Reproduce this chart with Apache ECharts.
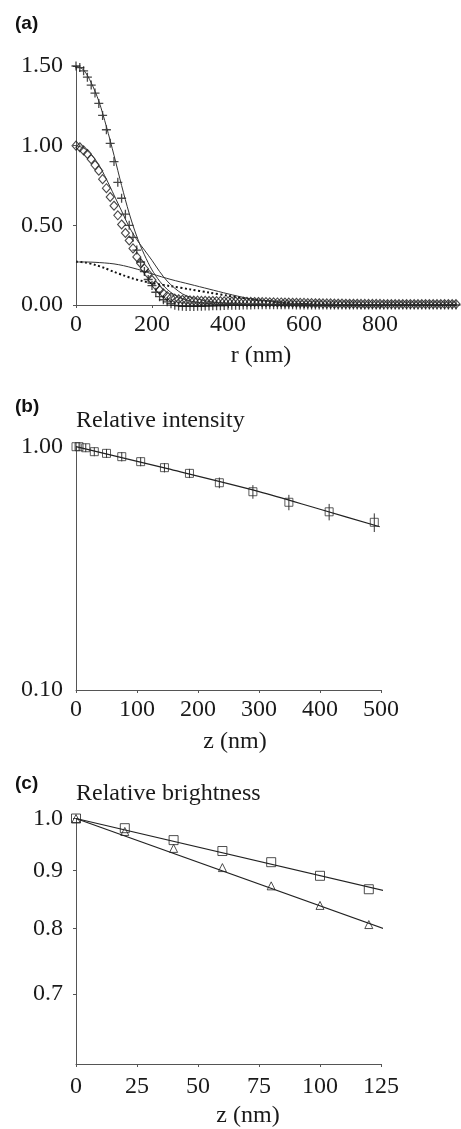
<!DOCTYPE html>
<html>
<head>
<meta charset="utf-8">
<script src="https://cdn.jsdelivr.net/npm/echarts@6/dist/echarts.min.js"></script>
<style>
html,body{margin:0;padding:0;background:#fff;}
#c{width:461px;height:1129px;}
</style>
</head>
<body>
<div id="c"></div>
<script>
// ---------- Panel (a) ----------
const rA = [0,10,20,30,40,50,60,70,80,90,100,110,120,130,140,150,160,170,180,190,200,210,220,230,240,250,
260,270,280,290,300,310,320,330,340,350,360,370,380,390,400,
410,420,430,440,450,460,470,480,490,500,510,520,530,540,550,560,570,580,590,600,
610,620,630,640,650,660,670,680,690,700,710,720,730,740,750,760,770,780,790,800,
810,820,830,840,850,860,870,880,890,900,910,920,930,940,950,960,970,980,990,1000];
const plusA = [1.50,1.49,1.47,1.43,1.38,1.33,1.265,1.19,1.10,1.015,0.90,0.77,0.67,0.57,0.50,0.425,0.345,0.27,0.21,0.16,0.122,0.08,0.052,0.033,0.02,0.008,
-0.002,-0.006,-0.008,-0.009,-0.009,-0.009,-0.008,-0.008,-0.007,-0.006,-0.005,-0.004,-0.004,-0.003,-0.002,
-0.002,-0.001,-0.001,0,0,0,0.001,0.001,0.001,0.001,
0.001,0.001,0.001,0.001,0.001,0.001,0.001,0,0,0,
0,0,0,0,0,0,0,0,0,0,
0,0,0,0,0,0,0,0,0,0,
0,0,0,0,0,0,0,0,0,0,
0,0,0,0,0,0,0,0,0,0];
const diamondA = [1.00,0.99,0.97,0.948,0.915,0.878,0.843,0.79,0.733,0.678,0.623,0.563,0.505,0.452,0.405,0.355,0.302,0.262,0.228,0.195,0.157,0.122,0.094,0.073,0.056,0.046,
0.04,0.036,0.033,0.031,0.029,
0.028,0.027,0.026,0.026,0.025,0.025,0.024,0.024,0.023,0.023,
0.022,0.022,0.021,0.021,0.02,0.02,0.019,0.019,0.018,0.018,
0.017,0.017,0.016,0.016,0.015,0.015,0.014,0.014,0.013,0.013,
0.012,0.012,0.011,0.011,0.01,0.01,0.01,0.009,0.009,0.009,
0.008,0.008,0.008,0.008,0.007,0.007,0.007,0.007,0.007,0.007,
0.006,0.006,0.006,0.006,0.006,0.006,0.006,0.006,0.006,0.006,
0.006,0.006,0.006,0.006,0.006,0.006,0.006,0.006,0.006,0.006];
const rFit = [0,20,40,60,80,100,120,140,160,180,200,220,240,260,280,300,350,400,450,500,600,800,1000];
const plusFit = [1.5,1.475,1.395,1.28,1.12,0.94,0.75,0.575,0.43,0.315,0.22,0.15,0.098,0.062,0.04,0.025,0.008,0.002,0.001,0,0,0,0];
const diamondFit = [1.0,0.985,0.945,0.88,0.79,0.69,0.59,0.49,0.41,0.345,0.28,0.21,0.15,0.105,0.07,0.05,0.022,0.01,0.004,0.001,0,0,0];
const rLow = [0,25,50,75,100,125,150,175,200,250,300,350,400,450,500,550,600,700,800,1000];
const lowSolid = [0.27,0.27,0.268,0.264,0.258,0.247,0.232,0.215,0.195,0.16,0.13,0.1,0.07,0.043,0.025,0.013,0.006,0.002,0,0];
const lowDotted = [0.272,0.266,0.252,0.232,0.208,0.186,0.166,0.15,0.137,0.118,0.098,0.078,0.058,0.04,0.025,0.013,0.006,0.002,0,0];

// ---------- Panel (b) ----------
const zB = [0,5,16,30,50,75,106,145,186,235,290,349,415,489];
const intensB = [1.0,1.0,0.99,0.954,0.939,0.910,0.868,0.820,0.777,0.711,0.653,0.591,0.540,0.489];
const errB = [0.04,0.04,0.04,0.04,0.04,0.04,0.037,0.036,0.034,0.036,0.042,0.043,0.042,0.043];
const zBFit = [0,150,300,400,498];
const intensBFit = [1.0,0.812,0.654,0.553,0.469];

// ---------- Panel (c) ----------
const zC = [0,20,40,60,80,100,120];
const brightSq = [1.0,0.9805,0.957,0.936,0.915,0.890,0.866];
const brightTri = [1.0,0.974,0.941,0.905,0.872,0.838,0.806];
const zCFit = [0,127.7];
const brightSqFit = [1.0,0.862];
const brightTriFit = [1.0,0.797];
const yTicksC = [0.7,0.8,0.9,1.0];

const zip = (a,b) => a.map((v,i)=>[v,b[i]]);
const SERIF = '"Liberation Serif", "Times New Roman", serif';
const TXT = '#1a1a1a';
const AX = '#555';
const FS = 24;

function xAx(grid, min, max, interval, extra) {
  return Object.assign({
    gridIndex: grid, type: 'value', min, max, interval,
    axisLine: {show: true, onZero: false, lineStyle: {color: AX, width: 1}},
    axisTick: {show: true, length: 3, lineStyle: {color: AX}},
    splitLine: {show: false},
    axisLabel: {fontFamily: SERIF, fontSize: FS, color: TXT, margin: 8}
  }, extra || {});
}

const plusPath = 'path://M5,0 L5,10 M0,5 L10,5';

const option = {
  animation: false,
  backgroundColor: '#fff',
  grid: [
    {left: 76, top: 66, width: 380, height: 239, outerBoundsMode: 'none'},
    {left: 76, top: 446.7, width: 305, height: 243.3, outerBoundsMode: 'none'},
    {left: 76, top: 818.5, width: 305, height: 245.5, outerBoundsMode: 'none'}
  ],
  xAxis: [
    xAx(0, 0, 1000, 200, {axisLabel: {fontFamily: SERIF, fontSize: FS, color: TXT, margin: 8, showMaxLabel: false}}),
    xAx(1, 0, 500, 100),
    xAx(2, 0, 125, 25, {axisLabel: {fontFamily: SERIF, fontSize: FS, color: TXT, margin: 11}})
  ],
  yAxis: [
    {
      gridIndex: 0, type: 'value', min: 0, max: 1.5, interval: 0.5,
      axisLine: {show: true, onZero: false, lineStyle: {color: AX}},
      axisTick: {show: true, length: 3, lineStyle: {color: AX}},
      splitLine: {show: false},
      axisLabel: {fontFamily: SERIF, fontSize: FS, color: TXT, margin: 13, formatter: v => v.toFixed(2)}
    },
    {
      gridIndex: 1, type: 'log', logBase: 10, min: 0.1, max: 1,
      axisLine: {show: true, onZero: false, lineStyle: {color: AX}},
      axisTick: {show: false},
      minorTick: {show: false},
      splitLine: {show: false},
      axisLabel: {fontFamily: SERIF, fontSize: FS, color: TXT, margin: 13, formatter: v => Number(v).toFixed(2)}
    },
    {
      gridIndex: 2, type: 'log', logBase: 10, min: 0.607, max: 1.0,
      axisLine: {show: true, onZero: false, lineStyle: {color: AX}},
      axisTick: {show: true, length: 3, lineStyle: {color: AX}, customValues: yTicksC},
      splitLine: {show: false},
      axisLabel: {fontFamily: SERIF, fontSize: FS, color: TXT, margin: 13, customValues: yTicksC, formatter: v => Number(v).toFixed(1)}
    }
  ],
  series: [
    // (a)
    {type: 'line', xAxisIndex: 0, yAxisIndex: 0, data: zip(rLow, lowDotted), showSymbol: false, smooth: 0.3,
      lineStyle: {color: '#111', width: 2, type: [2, 2.5]}},
    {type: 'line', xAxisIndex: 0, yAxisIndex: 0, data: zip(rLow, lowSolid), showSymbol: false, smooth: 0.3,
      lineStyle: {color: '#333', width: 1}},
    {type: 'line', xAxisIndex: 0, yAxisIndex: 0, data: zip(rFit, diamondFit), showSymbol: false, smooth: 0.3,
      lineStyle: {color: '#333', width: 1}},
    {type: 'line', xAxisIndex: 0, yAxisIndex: 0, data: zip(rFit, plusFit), showSymbol: false, smooth: 0.3,
      lineStyle: {color: '#333', width: 1}},
    {type: 'scatter', xAxisIndex: 0, yAxisIndex: 0, data: zip(rA, diamondA), clip: false,
      symbol: 'diamond', symbolSize: [8, 9],
      itemStyle: {color: 'rgba(0,0,0,0)', borderColor: '#1a1a1a', borderWidth: 1.1}},
    {type: 'scatter', xAxisIndex: 0, yAxisIndex: 0, data: zip(rA, plusA), clip: false,
      symbol: plusPath, symbolSize: 9,
      itemStyle: {color: 'rgba(0,0,0,0)', borderColor: '#1a1a1a', borderWidth: 1.3}},
    // (b)
    {type: 'line', xAxisIndex: 1, yAxisIndex: 1, data: zip(zBFit, intensBFit), showSymbol: false, smooth: 0.3,
      lineStyle: {color: '#222', width: 1.2}},
    {type: 'custom', xAxisIndex: 1, yAxisIndex: 1, clip: false,
      data: zB.map((z,i)=>[z, intensB[i]-errB[i], intensB[i]+errB[i]]),
      encode: {x: 0, y: [1, 2]},
      renderItem: function (params, api) {
        const p1 = api.coord([api.value(0), api.value(1)]);
        const p2 = api.coord([api.value(0), api.value(2)]);
        return {type: 'line', shape: {x1: p1[0], y1: p1[1], x2: p2[0], y2: p2[1]},
          style: {stroke: '#333', lineWidth: 1}};
      }},
    {type: 'scatter', xAxisIndex: 1, yAxisIndex: 1, data: zip(zB, intensB), clip: false,
      symbol: 'rect', symbolSize: 8,
      itemStyle: {color: 'rgba(0,0,0,0)', borderColor: '#333', borderWidth: 1}},
    // (c)
    {type: 'line', xAxisIndex: 2, yAxisIndex: 2, data: zip(zCFit, brightSqFit), showSymbol: false, clip: false,
      lineStyle: {color: '#222', width: 1.2}},
    {type: 'line', xAxisIndex: 2, yAxisIndex: 2, data: zip(zCFit, brightTriFit), showSymbol: false, clip: false,
      lineStyle: {color: '#222', width: 1.2}},
    {type: 'scatter', xAxisIndex: 2, yAxisIndex: 2, data: zip(zC, brightSq), clip: false,
      symbol: 'rect', symbolSize: 9,
      itemStyle: {color: 'rgba(0,0,0,0)', borderColor: '#222', borderWidth: 1}},
    {type: 'scatter', xAxisIndex: 2, yAxisIndex: 2, data: zip(zC, brightTri), clip: false,
      symbol: 'triangle', symbolSize: 8,
      itemStyle: {color: 'rgba(0,0,0,0)', borderColor: '#222', borderWidth: 1}}
  ],
  graphic: [
    {type: 'text', left: 15, top: 14, style: {text: '(a)', font: 'bold 19px "Liberation Sans", Arial, sans-serif', fill: '#111'}},
    {type: 'text', left: 15, top: 397, style: {text: '(b)', font: 'bold 19px "Liberation Sans", Arial, sans-serif', fill: '#111'}},
    {type: 'text', left: 15, top: 774, style: {text: '(c)', font: 'bold 19px "Liberation Sans", Arial, sans-serif', fill: '#111'}},
    {type: 'text', x: 76, y: 421, style: {text: 'Relative intensity', font: '24px ' + SERIF, fill: TXT, align: 'left', verticalAlign: 'middle'}},
    {type: 'text', x: 76, y: 794, style: {text: 'Relative brightness', font: '24px ' + SERIF, fill: TXT, align: 'left', verticalAlign: 'middle'}},
    {type: 'text', x: 261, y: 356, style: {text: 'r (nm)', font: '24px ' + SERIF, fill: TXT, align: 'center', verticalAlign: 'middle'}},
    {type: 'text', x: 235, y: 742, style: {text: 'z (nm)', font: '24px ' + SERIF, fill: TXT, align: 'center', verticalAlign: 'middle'}},
    {type: 'text', x: 248, y: 1116, style: {text: 'z (nm)', font: '24px ' + SERIF, fill: TXT, align: 'center', verticalAlign: 'middle'}}
  ]
};

const chart = echarts.init(document.getElementById('c'), null, {renderer: 'canvas'});
chart.setOption(option);
</script>
</body>
</html>
